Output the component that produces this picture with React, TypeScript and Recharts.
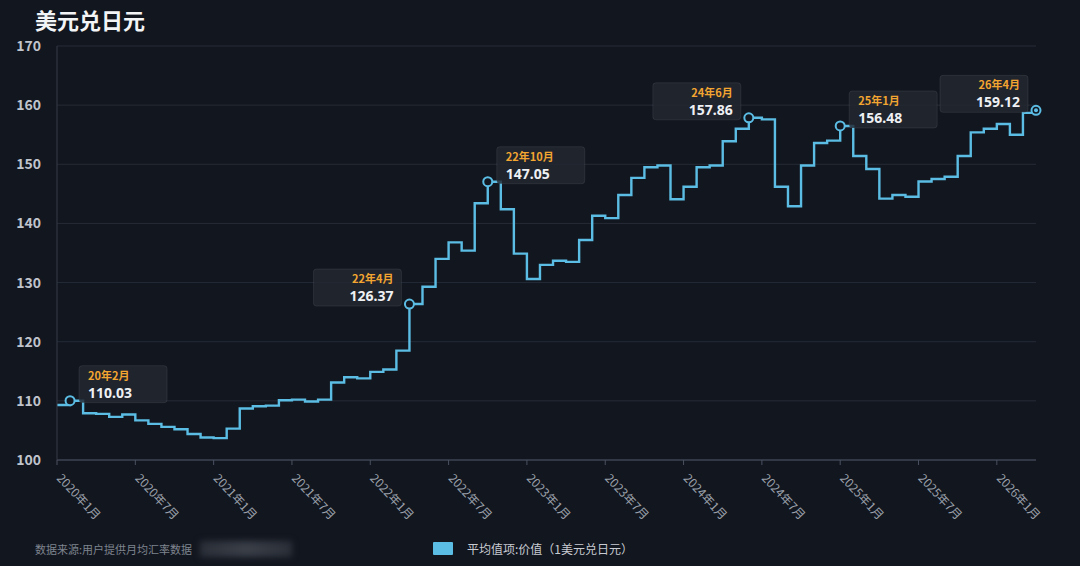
import React from 'react';
import { LineChart, Line, XAxis, YAxis, CartesianGrid } from 'recharts';

// monthly labels, 2020年1月 .. 2026年4月
const months = [
  '2020年1月', '2020年2月', '2020年3月', '2020年4月', '2020年5月', '2020年6月',
  '2020年7月', '2020年8月', '2020年9月', '2020年10月', '2020年11月', '2020年12月',
  '2021年1月', '2021年2月', '2021年3月', '2021年4月', '2021年5月', '2021年6月',
  '2021年7月', '2021年8月', '2021年9月', '2021年10月', '2021年11月', '2021年12月',
  '2022年1月', '2022年2月', '2022年3月', '2022年4月', '2022年5月', '2022年6月',
  '2022年7月', '2022年8月', '2022年9月', '2022年10月', '2022年11月', '2022年12月',
  '2023年1月', '2023年2月', '2023年3月', '2023年4月', '2023年5月', '2023年6月',
  '2023年7月', '2023年8月', '2023年9月', '2023年10月', '2023年11月', '2023年12月',
  '2024年1月', '2024年2月', '2024年3月', '2024年4月', '2024年5月', '2024年6月',
  '2024年7月', '2024年8月', '2024年9月', '2024年10月', '2024年11月', '2024年12月',
  '2025年1月', '2025年2月', '2025年3月', '2025年4月', '2025年5月', '2025年6月',
  '2025年7月', '2025年8月', '2025年9月', '2025年10月', '2025年11月', '2025年12月',
  '2026年1月', '2026年2月', '2026年3月', '2026年4月',
];

// 1美元兑日元, monthly average
const rates2020 = [109.3, 110.03, 107.9, 107.8, 107.3, 107.7, 106.7, 106.1, 105.6, 105.2, 104.4, 103.8];
const rates2021 = [103.7, 105.3, 108.7, 109.1, 109.2, 110.1, 110.2, 109.9, 110.2, 113.1, 114.0, 113.8];
const rates2022 = [114.9, 115.3, 118.5, 126.37, 129.3, 134.0, 136.8, 135.4, 143.4, 147.05, 142.4, 134.9];
const rates2023 = [130.6, 133.0, 133.7, 133.5, 137.2, 141.3, 140.9, 144.8, 147.7, 149.5, 149.8, 144.1];
const rates2024 = [146.2, 149.5, 149.8, 153.9, 156.0, 157.86, 157.6, 146.2, 142.9, 149.8, 153.6, 154.0];
const rates2025 = [156.48, 151.4, 149.2, 144.2, 144.8, 144.5, 147.1, 147.5, 147.9, 151.4, 155.4, 156.0];
const rates2026 = [156.8, 155.0, 158.7, 159.12];

const rates = [...rates2020, ...rates2021, ...rates2022, ...rates2023, ...rates2024, ...rates2025, ...rates2026];

const xTicks = [0, 6, 12, 18, 24, 30, 36, 42, 48, 54, 60, 66, 72];
const yTicks = [100, 110, 120, 130, 140, 150, 160, 170];

// highlighted points
const highlights = ['2020年2月', '2022年4月', '2022年10月', '2024年6月', '2025年1月', '2026年4月'];

const data = months.map((m, i) => ({ idx: i, month: m, rate: rates[i] }));

const BG = '#12161f';
const BLUE = '#5cbde4';
const FONT = "'Noto Sans CJK SC', 'Noto Sans', sans-serif";
const NUM_FONT = "'Noto Sans', 'Noto Sans CJK SC', sans-serif";

const XTick = ({ x, y, payload }: any) => (
  <g transform={`translate(${x + 2},${y + 9}) rotate(47)`}>
    <text x={0} y={0} dy={4} textAnchor="start" fill="#9ba1ab" fontSize={12} fontFamily={FONT}>
      {months[payload.value]}
    </text>
  </g>
);

const App: React.FC = () => {
  // boxes that sit to the left of their point
  const labelLeft = ['2022年4月', '2024年6月', '2026年4月'];
  const last = months.length - 1;

  const renderDot = (props: any) => {
    const { cx, cy, index } = props;
    const m = months[index];
    if (!highlights.includes(m)) return <g key={`dot-${index}`} />;
    const left = labelLeft.includes(m);
    const w = 88;
    const h = 37;
    const bx = left ? cx - 8 - w : cx + 9;
    const by = cy - 35;
    const tx = left ? bx + w - 8 : bx + 9;
    const anchor = left ? 'end' : 'start';
    return (
      <g key={`dot-${index}`}>
        <rect x={bx} y={by} width={w} height={h} rx={3} fill="rgba(34,39,49,0.82)" stroke="rgba(255,255,255,0.08)" />
        <text x={tx} y={by + 14} textAnchor={anchor} fill="#f2a531" fontSize={11} fontWeight={700} fontFamily={FONT}>
          {m.slice(2)}
        </text>
        <text x={tx} y={by + 32} textAnchor={anchor} fill="#eef0f3" fontSize={14} fontWeight={700} fontFamily={NUM_FONT}>
          {rates[index].toFixed(2)}
        </text>
        <circle cx={cx} cy={cy} r={4.5} fill={BG} stroke={BLUE} strokeWidth={2} />
        {index === last && <circle cx={cx} cy={cy} r={2} fill={BLUE} />}
      </g>
    );
  };

  return (
    <div style={{ position: 'absolute', left: 0, top: 0, width: 1080, height: 566, background: BG, fontFamily: FONT }}>
      <div style={{ position: 'absolute', left: 35, top: 3, fontSize: 22, fontWeight: 700, color: '#f3f4f6' }}>
        美元兑日元
      </div>

      <LineChart width={1080} height={566} data={data} margin={{ top: 46, right: 44, bottom: 46, left: 0 }}>
        <CartesianGrid vertical={false} stroke="#252b36" />
        <XAxis
          type="number"
          dataKey="idx"
          domain={[0, 75]}
          ticks={xTicks}
          interval={0}
          height={60}
          tick={<XTick />}
          axisLine={{ stroke: '#4a5160' }}
          tickLine={{ stroke: '#4a5160' }}
          tickSize={5}
        />
        <YAxis
          domain={[100, 170]}
          ticks={yTicks}
          width={57}
          axisLine={{ stroke: '#343b47' }}
          tickLine={false}
          tickMargin={10}
          tick={{ fill: '#c0c4cc', fontSize: 14, fontWeight: 600, fontFamily: FONT }}
        />
        <Line
          type="stepAfter"
          dataKey="rate"
          stroke={BLUE}
          strokeWidth={2.4}
          dot={renderDot}
          activeDot={false}
          isAnimationActive={false}
        />
      </LineChart>

      <div style={{ position: 'absolute', left: 35, top: 541, fontSize: 11, color: '#7e848e' }}>
        数据来源:用户提供月均汇率数据
      </div>
      <div
        style={{
          position: 'absolute', left: 200, top: 541, width: 92, height: 16,
          background: 'linear-gradient(90deg, #2a2f38, #3a3f48, #2a2f38)', filter: 'blur(3px)',
        }}
      />
      <div style={{ position: 'absolute', left: 433, top: 542, width: 20, height: 13, background: BLUE, borderRadius: 1 }} />
      <div style={{ position: 'absolute', left: 467, top: 540, fontSize: 12, color: '#c8cbd1' }}>
        平均值项:价值（1美元兑日元）
      </div>
    </div>
  );
};

export default App;
